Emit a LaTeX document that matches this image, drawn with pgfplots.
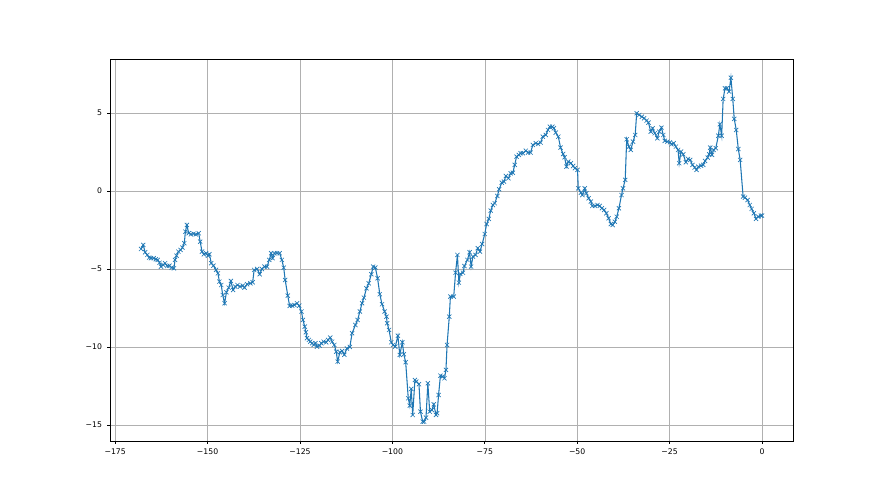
\documentclass[border=0pt]{standalone}
\usepackage{fontspec}
\setmainfont{DejaVu Sans}
\usepackage{pgfplots}
\pgfplotsset{compat=1.18}
\definecolor{mplblue}{HTML}{1F77B4}
\definecolor{gridgray}{HTML}{B0B0B0}
\begin{document}
\begin{tikzpicture}
\path[use as bounding box] (0,0) rectangle (660pt,371.25pt);
\begin{axis}[
  at={(82.5pt,40.5pt)}, anchor=south west,
  scale only axis, width=512.25pt, height=286.5pt,
  xmin=-176.4, xmax=8.4, ymin=-16.03, ymax=8.46,
  xtick={-175,-150,-125,-100,-75,-50,-25,0},
  xticklabels={−175,−150,−125,−100,−75,−50,−25,0},
  ytick={-15,-10,-5,0,5},
  yticklabels={−15,−10,−5,0,5},
  tick label style={font=\fontsize{5.8}{7}\selectfont},
  tick align=outside, major tick length=2pt,
  xtick pos=bottom, ytick pos=left,
  every tick/.style={black, line width=0.45pt},
  axis line style={line width=0.45pt},
  grid=major, major grid style={gridgray, line width=0.4pt},
  xticklabel style={yshift=-0.5pt}, yticklabel style={xshift=-0.5pt},
]
\addplot[mplblue, line width=0.8pt, mark=x, mark size=2.2pt, mark options={line width=0.5pt}] coordinates {
(-168.0,-3.72) (-167.4,-3.46) (-166.9,-3.93) (-166.3,-4.10) (-165.8,-4.27) (-165.3,-4.31) (-164.6,-4.31) (-164.0,-4.38) (-163.5,-4.42) (-163.0,-4.60)
(-162.6,-4.85) (-162.0,-4.74) (-161.5,-4.63) (-160.9,-4.81) (-160.3,-4.79) (-159.7,-4.92) (-159.1,-4.96) (-158.8,-4.42) (-158.4,-4.15) (-157.9,-3.89)
(-157.3,-3.78) (-156.8,-3.63) (-156.3,-3.35) (-156.0,-2.61) (-155.6,-2.18) (-155.1,-2.71) (-154.5,-2.78) (-153.8,-2.74) (-153.2,-2.78) (-152.4,-2.71)
(-152.0,-3.25) (-151.5,-3.89) (-151.0,-4.06) (-150.4,-3.99) (-149.9,-4.15) (-149.5,-4.06) (-149.0,-4.63) (-148.4,-4.79) (-147.7,-5.06) (-147.2,-5.28)
(-146.8,-5.81) (-146.3,-6.03) (-145.9,-6.67) (-145.4,-7.20) (-144.9,-6.50) (-144.3,-6.20) (-143.7,-5.77) (-143.1,-6.35) (-142.5,-6.13) (-141.9,-6.03)
(-141.2,-6.13) (-140.5,-6.07) (-140.0,-6.20) (-139.3,-5.98) (-138.4,-5.92) (-137.8,-5.85) (-137.4,-5.06) (-136.6,-5.00) (-135.9,-5.34) (-135.3,-5.00)
(-134.6,-4.85) (-133.9,-4.85) (-133.3,-4.42) (-132.8,-3.99) (-132.4,-4.31) (-131.9,-3.99) (-131.2,-3.99) (-130.5,-3.99) (-129.9,-4.42) (-129.4,-4.92)
(-129.0,-5.71) (-128.3,-6.71) (-127.8,-7.37) (-127.1,-7.35) (-126.5,-7.31) (-125.8,-7.20) (-125.2,-7.35) (-124.6,-7.73) (-124.2,-8.27) (-123.7,-8.70)
(-123.4,-9.06) (-123.1,-9.44) (-122.6,-9.55) (-122.2,-9.66) (-121.7,-9.76) (-121.3,-9.87) (-120.8,-9.76) (-120.4,-9.98) (-119.7,-9.92) (-119.2,-9.76)
(-118.6,-9.66) (-117.9,-9.70) (-117.4,-9.55) (-116.8,-9.40) (-116.3,-9.66) (-115.7,-9.87) (-115.2,-10.30) (-114.8,-10.94) (-114.2,-10.34) (-113.6,-10.26)
(-113.0,-10.50) (-112.3,-10.10) (-111.5,-10.00) (-110.9,-9.12) (-110.0,-8.59) (-109.4,-8.27) (-108.8,-7.73) (-108.2,-7.20) (-107.7,-6.84) (-107.0,-6.24)
(-106.4,-5.92) (-105.7,-5.34) (-105.2,-4.85) (-104.6,-4.91) (-104.0,-5.60) (-103.4,-6.62) (-102.8,-7.26) (-102.1,-7.73) (-101.6,-8.06) (-101.4,-8.48)
(-100.9,-8.91) (-100.3,-9.70) (-99.8,-9.87) (-99.2,-9.98) (-98.5,-9.28) (-98.0,-10.51) (-97.3,-9.70) (-96.9,-10.47) (-96.4,-10.98) (-95.7,-13.29)
(-95.3,-13.76) (-94.9,-12.69) (-94.5,-14.36) (-93.9,-12.12) (-93.5,-12.22) (-92.8,-12.39) (-92.4,-14.15) (-91.8,-14.79) (-91.4,-14.79) (-90.9,-14.53)
(-90.4,-12.33) (-89.9,-14.15) (-89.3,-14.04) (-88.8,-13.68) (-88.2,-14.36) (-87.9,-14.25) (-87.5,-13.08) (-87.0,-11.84) (-86.4,-11.90) (-85.9,-12.01)
(-85.5,-11.47) (-85.2,-9.87) (-84.6,-8.06) (-84.3,-6.77) (-83.4,-6.77) (-82.9,-5.24) (-82.4,-4.10) (-82.0,-5.88) (-81.6,-5.32) (-80.9,-5.24)
(-80.5,-4.81) (-79.7,-4.42) (-79.1,-3.93) (-78.7,-4.85) (-78.2,-4.21) (-77.5,-4.10) (-76.9,-3.67) (-76.3,-3.89) (-75.7,-3.40) (-75.0,-2.76)
(-74.5,-2.12) (-73.9,-1.79) (-73.4,-1.26) (-72.8,-0.90) (-72.3,-0.79) (-71.6,-0.32) (-71.1,0.11) (-70.4,0.53) (-69.8,0.60) (-69.3,0.96)
(-68.6,0.81) (-68.0,1.13) (-67.4,1.17) (-66.9,1.67) (-66.4,2.20) (-65.8,2.31) (-65.3,2.42) (-64.7,2.42) (-63.9,2.58) (-63.3,2.46)
(-62.6,2.46) (-62.0,2.95) (-61.2,3.06) (-60.6,3.01) (-59.9,3.10) (-59.3,3.48) (-58.5,3.59) (-57.9,3.91) (-57.4,4.12) (-56.7,4.12)
(-56.3,4.02) (-55.8,3.74) (-55.1,3.48) (-54.5,2.78) (-53.8,2.37) (-53.4,2.16) (-52.9,1.56) (-52.4,1.88) (-51.7,1.78) (-51.1,1.60)
(-50.6,1.46) (-49.9,1.35) (-49.7,0.17) (-49.0,-0.11) (-48.6,-0.26) (-47.95,0.17) (-47.5,-0.15) (-46.9,-0.47) (-46.3,-0.68) (-45.9,-0.96)
(-45.2,-0.96) (-44.5,-0.90) (-43.9,-0.96) (-43.3,-1.11) (-42.7,-1.22) (-42.1,-1.43) (-41.5,-1.75) (-40.9,-2.12) (-40.4,-2.18) (-39.8,-1.97)
(-39.3,-1.65) (-38.7,-1.11) (-38.0,-0.26) (-37.6,0.17) (-37.0,0.71) (-36.6,3.31) (-36.0,2.84) (-35.5,2.63) (-34.9,3.16) (-34.3,3.59)
(-33.9,4.98) (-33.2,4.87) (-32.5,4.76) (-31.9,4.66) (-31.2,4.51) (-30.7,4.38) (-30.1,3.80) (-29.6,4.02) (-29.0,3.70) (-28.3,3.38)
(-27.8,3.80) (-27.2,4.06) (-26.7,3.59) (-26.3,3.21) (-25.6,3.16) (-24.9,3.12) (-24.5,2.99) (-23.9,3.06) (-23.3,2.84) (-22.7,2.63)
(-22.4,1.78) (-21.9,2.52) (-21.3,2.35) (-20.6,1.84) (-20.0,2.05) (-19.4,1.99) (-18.8,1.67) (-18.2,1.50) (-17.7,1.35) (-17.2,1.56)
(-16.5,1.62) (-15.9,1.67) (-15.4,1.92) (-14.7,2.14) (-14.3,2.35) (-14.0,2.78) (-13.5,2.31) (-13.1,2.63) (-12.5,2.74) (-11.8,3.54)
(-11.4,4.27) (-10.9,3.54) (-10.5,5.90) (-10.0,6.58) (-9.5,6.58) (-8.9,6.37) (-8.4,7.26) (-7.9,5.90) (-7.5,4.62) (-6.96,3.91)
(-6.4,2.69) (-5.9,1.99) (-5.1,-0.36) (-4.6,-0.43) (-3.9,-0.58) (-3.3,-0.90) (-2.8,-1.15) (-2.2,-1.43) (-1.6,-1.79) (-1.0,-1.65)
(-0.3,-1.58) (0.0,-1.58)
};
\end{axis}
\end{tikzpicture}
\end{document}
